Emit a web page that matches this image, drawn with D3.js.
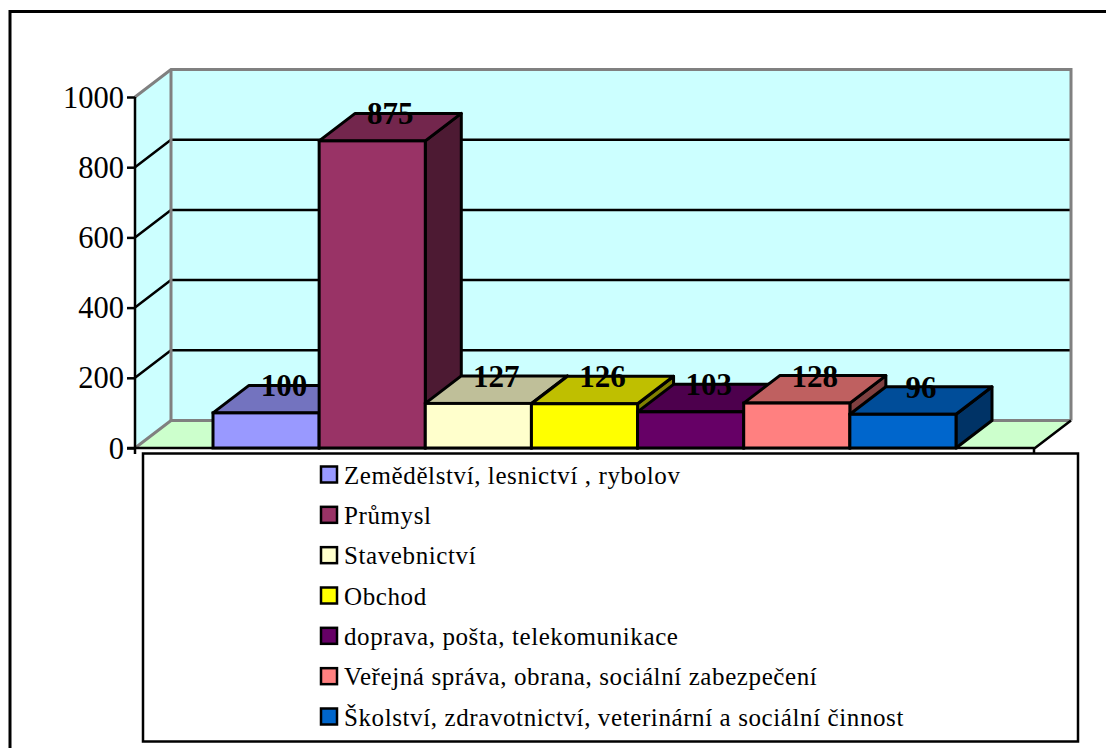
<!DOCTYPE html>
<html><head><meta charset="utf-8">
<style>html,body{margin:0;padding:0;background:#fff}svg{display:block}text{font-family:"Liberation Serif",serif;fill:#000}</style>
<script src="https://cdnjs.cloudflare.com/ajax/libs/d3/7.8.5/d3.min.js"></script>
</head><body><svg id="c" width="1106" height="748"></svg>
<script>
const categories=["Zemědělství, lesnictví , rybolov","Průmysl","Stavebnictví","Obchod","doprava, pošta, telekomunikace","Veřejná správa, obrana, sociální zabezpečení","Školství, zdravotnictví, veterinární a sociální činnost"];
const values=[100,875,127,126,103,128,96];
const colors=["#9999FF","#993366","#FFFFCC","#FFFF00","#660066","#FF8080","#0066CC"];
const tickValues=[0,200,400,600,800,1000];

const svg=d3.select("#c");
const y=d3.scaleLinear().domain([0,1000]).range([448,97]);
const x=d3.scaleBand().domain(categories).range([213,956]).padding(0);
const dx=36,dy=-27.5;
const xL=135,xR=1035;
const P=p=>p.map(a=>a.join(",")).join(" ");
const shade=(c,k)=>{const r=d3.rgb(c);return d3.rgb(r.r*k,r.g*k,r.b*k).formatHex();};

// outer frame: left and top only
svg.append("path").attr("d","M10,760V11.5H1110").attr("fill","none").attr("stroke","#000").attr("stroke-width",3);

// walls
const g=svg.append("g");
g.append("polygon").attr("points",P([[xL,y(0)],[xL+dx,y(0)+dy],[xL+dx,y(1000)+dy],[xL,y(1000)]])).attr("fill","#CCFFFF");
g.append("rect").attr("x",xL+dx).attr("y",y(1000)+dy).attr("width",xR-xL).attr("height",y(0)-y(1000)).attr("fill","#CCFFFF");
g.append("polygon").attr("points",P([[xL,y(0)],[xR,y(0)],[xR+dx,y(0)+dy],[xL+dx,y(0)+dy]])).attr("fill","#CCFFCC");

// gridlines
tickValues.filter(t=>t>0&&t<1000).forEach(t=>{
  g.append("polyline").attr("points",P([[xL,y(t)],[xL+dx,y(t)+dy],[xR+dx,y(t)+dy]])).attr("fill","none").attr("stroke","#000").attr("stroke-width",2.5);
});
// wall edges (grey)
g.append("polyline").attr("points",P([[xL,y(1000)],[xL+dx,y(1000)+dy],[xR+dx,y(1000)+dy],[xR+dx,y(0)+dy]])).attr("fill","none").attr("stroke","#808080").attr("stroke-width",3);
g.append("line").attr("x1",xL+dx).attr("x2",xL+dx).attr("y1",y(1000)+dy).attr("y2",y(0)+dy).attr("stroke","#808080").attr("stroke-width",3);
g.append("polyline").attr("points",P([[xL,y(0)],[xL+dx,y(0)+dy],[xR+dx,y(0)+dy]])).attr("fill","none").attr("stroke","#808080").attr("stroke-width",3);
// floor front and right edges, with the small tick at the corner
g.append("polyline").attr("points",P([[xL-8,y(0)],[xR,y(0)],[xR+dx,y(0)+dy]])).attr("fill","none").attr("stroke","#000").attr("stroke-width",2.5);
g.append("line").attr("x1",xR-1).attr("x2",xR-1).attr("y1",y(0)).attr("y2",y(0)+6).attr("stroke","#000").attr("stroke-width",2.5);

// bars
const bars=svg.append("g").selectAll("g").data(values).join("g");
const bw=x.bandwidth();
const X=(d,i)=>x(categories[i]);
bars.append("polygon").attr("points",(d,i)=>{const a=X(d,i)+bw,t=y(d),b=y(0);return P([[a,t],[a+dx,t+dy],[a+dx,b+dy],[a,b]]);})
 .attr("fill",(d,i)=>shade(colors[i],0.5)).attr("stroke","#000").attr("stroke-width",3).attr("stroke-linejoin","round");
bars.append("polygon").attr("points",(d,i)=>{const a=X(d,i),t=y(d);return P([[a,t],[a+dx,t+dy],[a+bw+dx,t+dy],[a+bw,t]]);})
 .attr("fill",(d,i)=>shade(colors[i],0.75)).attr("stroke","#000").attr("stroke-width",3).attr("stroke-linejoin","round");
bars.append("rect").attr("x",X).attr("y",d=>y(d)).attr("width",bw).attr("height",d=>y(0)-y(d))
 .attr("fill",(d,i)=>colors[i]).attr("stroke","#000").attr("stroke-width",3);

// y axis
const ax=svg.append("g").attr("transform",`translate(${xL},0)`).call(d3.axisLeft(y).tickValues(tickValues).tickSize(8).tickPadding(3).tickSizeOuter(0).tickFormat(d3.format("d")));
ax.selectAll("path,line").attr("stroke","#000").attr("stroke-width",2.5);
ax.select(".domain").attr("d",`M0,${y(1000)}V${y(0)+6}`);
ax.selectAll("text").attr("font-size",30.5).style("font-family",'"Liberation Serif",serif').attr("fill","#000").attr("dy","0.33em");

// data labels
svg.append("g").selectAll("text").data(values).join("text")
 .attr("x",(d,i)=>X(d,i)+bw/2+dx/2).attr("y",d=>y(d)+dy+11)
 .attr("text-anchor","middle").attr("font-size",31).attr("font-weight","bold").text(d=>d);

// legend
svg.append("rect").attr("x",143).attr("y",453.5).attr("width",935).attr("height",288).attr("fill","#fff").attr("stroke","#000").attr("stroke-width",2.5);
const ly=d3.scalePoint().domain(categories).range([474.5,716.5]);
const leg=svg.append("g").selectAll("g").data(categories).join("g").attr("transform",d=>`translate(321,${ly(d)})`);
leg.append("rect").attr("x",0).attr("y",-8).attr("width",16).attr("height",16).attr("fill",(d,i)=>colors[i]).attr("stroke","#000").attr("stroke-width",2.5);
leg.append("text").attr("x",23).attr("y",9).attr("font-size",25).attr("letter-spacing",0.6).text(d=>d);
</script></body></html>
